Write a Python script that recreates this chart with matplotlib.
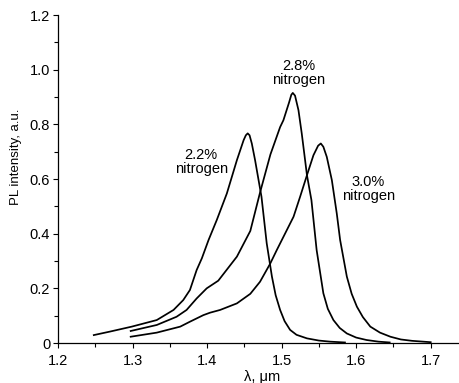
import matplotlib
matplotlib.use("Agg")
import matplotlib.pyplot as plt
from matplotlib.ticker import MultipleLocator, FuncFormatter

plt.rcParams['font.family'] = ['Liberation Sans', 'DejaVu Sans']

# 2.2% nitrogen
wl_22 = [1.248, 1.270, 1.299, 1.3325, 1.355, 1.368, 1.377, 1.386, 1.393, 1.402, 1.413,
         1.4265, 1.440, 1.449, 1.452, 1.4545, 1.457, 1.4600, 1.4644, 1.473, 1.480,
         1.487, 1.492, 1.498, 1.504, 1.5114, 1.520, 1.534, 1.550, 1.565, 1.585]
pl_22 = [0.029, 0.042, 0.060, 0.084, 0.121, 0.157, 0.194, 0.267, 0.310, 0.377, 0.450,
         0.547, 0.669, 0.742, 0.760, 0.767, 0.760, 0.730, 0.669, 0.535, 0.365,
         0.243, 0.175, 0.121, 0.080, 0.048, 0.030, 0.017, 0.009, 0.005, 0.002]

# 2.8% nitrogen
wl_28 = [1.2975, 1.3325, 1.359, 1.3725, 1.386, 1.3995, 1.415, 1.440, 1.458, 1.471,
         1.485, 1.498, 1.5024, 1.510, 1.513, 1.515, 1.518, 1.5226, 1.527, 1.5315,
         1.534, 1.540, 1.547, 1.556, 1.562, 1.5695, 1.578, 1.5875, 1.600, 1.614,
         1.630, 1.645]
pl_28 = [0.044, 0.066, 0.096, 0.121, 0.163, 0.200, 0.228, 0.316, 0.410, 0.550,
         0.690, 0.790, 0.815, 0.880, 0.908, 0.915, 0.905, 0.852, 0.767, 0.669,
         0.614, 0.523, 0.340, 0.182, 0.125, 0.084, 0.055, 0.035, 0.020, 0.011,
         0.005, 0.002]

# 3.0% nitrogen
wl_30 = [1.2975, 1.3325, 1.364, 1.377, 1.395, 1.404, 1.4175, 1.440, 1.458, 1.471,
         1.4846, 1.4935, 1.516, 1.5248, 1.534, 1.5427, 1.549, 1.5526, 1.556, 1.5606,
         1.5674, 1.574, 1.5785, 1.5875, 1.594, 1.601, 1.609, 1.619, 1.632, 1.646,
         1.660, 1.675, 1.700]
pl_30 = [0.023, 0.038, 0.060, 0.078, 0.102, 0.111, 0.121, 0.145, 0.180, 0.224,
         0.290, 0.340, 0.462, 0.535, 0.614, 0.687, 0.722, 0.730, 0.718, 0.681,
         0.596, 0.474, 0.377, 0.243, 0.180, 0.133, 0.095, 0.060, 0.038, 0.023,
         0.013, 0.008, 0.003]

labels = ["2.2%\nnitrogen", "2.8%\nnitrogen", "3.0%\nnitrogen"]
label_pos = [(1.392, 0.662), (1.5226, 0.989), (1.6165, 0.563)]

x_ticks = [1.2, 1.3, 1.4, 1.5, 1.6, 1.7]
y_ticks = [0, 0.2, 0.4, 0.6, 0.8, 1.0, 1.2]

fig = plt.figure(figsize=(4.59, 3.83), dpi=100)
ax = fig.add_axes([0.1264, 0.1044, 0.8736, 0.8564])

for wl, pl in [(wl_22, pl_22), (wl_28, pl_28), (wl_30, pl_30)]:
    ax.plot(wl, pl, color='black', lw=1.25, solid_joinstyle='round')

for txt, (xx, yy) in zip(labels, label_pos):
    ax.text(xx, yy, txt, ha='center', va='center', fontsize=10.5, linespacing=1.0)

ax.set_xlim(1.2, 1.738)
ax.set_ylim(0, 1.2)
ax.set_xticks(x_ticks)
ax.set_yticks(y_ticks)
ax.xaxis.set_minor_locator(MultipleLocator(0.05))
ax.yaxis.set_minor_locator(MultipleLocator(0.1))
ax.yaxis.set_major_formatter(FuncFormatter(lambda v, p: "0" if abs(v) < 1e-9 else f"{v:.1f}"))
ax.xaxis.set_major_formatter(FuncFormatter(lambda v, p: f"{v:.1f}"))

for s in ['top', 'right']:
    ax.spines[s].set_visible(False)
for s in ['left', 'bottom']:
    ax.spines[s].set_linewidth(0.9)

ax.tick_params(axis='both', which='major', direction='out', length=3.6, width=0.8,
               labelsize=10.5, pad=2)
ax.tick_params(axis='x', which='major', pad=4)
ax.tick_params(axis='both', which='minor', direction='out', length=3.0, width=0.8)

ax.set_ylabel("PL intensity, a.u.", fontsize=9.5)
ax.yaxis.set_label_coords(-0.105, 0.567)
ax.set_xlabel("λ, μm", fontsize=10.5)
ax.xaxis.set_label_coords(0.509, -0.104)
ax.xaxis.label.set_va('center')
ax.yaxis.label.set_va('center')

fig.savefig("out.png", dpi=100)
